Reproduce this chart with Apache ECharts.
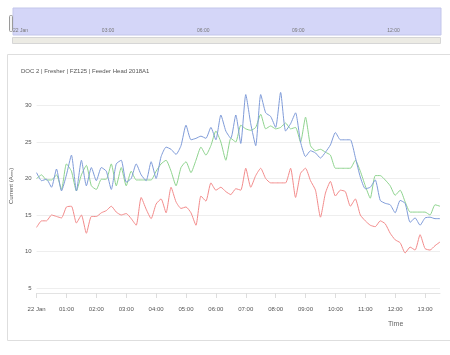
<!DOCTYPE html>
<html>
<head>
<meta charset="utf-8">
<script src="https://cdn.jsdelivr.net/npm/echarts@6/dist/echarts.min.js"></script>
<style>html,body{margin:0;padding:0;background:#fff;}#c{width:450px;height:355px;}</style>
</head>
<body>
<div id="c"></div>
<script>
// time categories every 10 minutes, 00:00 .. 13:30 on 22 Jan
var times = [];
for (var h = 0; h <= 13; h++) {
  for (var m = 0; m < 60; m += 10) {
    if (h === 13 && m > 30) break;
    times.push((h < 10 ? '0' : '') + h + ':' + (m < 10 ? '0' : '') + m);
  }
}
var chartTitle = 'DOC 2 | Fresher | FZ125 | Feeder Head 2018A1';
var yTicks = [5, 10, 15, 20, 25, 30];

var blueValues = [
  20.8, 19.7, 19.9, 18.8, 21.3, 18.3,
  20.5, 23.2, 18.3, 22.5, 19.0, 21.5,
  19.7, 21.5, 21.0, 18.5, 22.0, 22.5,
  19.5, 20.0, 22.0, 20.5, 19.7, 22.3,
  20.0, 23.0, 24.3, 24.0, 23.3, 24.5,
  27.3, 25.3, 25.5, 25.8, 25.5, 27.0,
  25.3, 28.7, 26.5, 25.5, 28.7, 24.8,
  31.5, 27.5, 24.5, 31.5, 29.0, 28.5,
  27.0, 31.8, 26.5, 27.5, 29.0, 25.0,
  23.0, 23.8, 23.5, 22.8, 23.6, 24.6,
  26.3, 25.3, 25.3, 25.3, 22.9, 20.2,
  18.6, 18.8, 19.8, 17.0, 16.6, 16.4,
  15.3, 17.0, 16.6, 14.0, 14.6, 13.6,
  14.6, 14.7, 14.5, 14.5
];
var greenValues = [
  20.0, 20.5, 19.8, 19.8, 20.5, 18.5,
  22.0, 21.0, 18.3, 20.5, 21.8, 19.0,
  18.5, 19.9, 19.9, 22.0, 19.0, 21.5,
  19.0, 21.0, 19.8, 19.8, 19.8, 19.8,
  21.0, 22.0, 22.5, 21.0, 19.0, 21.5,
  22.3, 20.8, 22.5, 24.3, 23.2, 24.5,
  26.5, 25.0, 22.5, 25.5, 25.0, 27.3,
  26.8, 26.6, 27.0, 28.8, 26.8, 27.2,
  26.8, 27.0, 27.6, 26.8, 27.0, 25.0,
  28.4, 24.5, 23.8, 24.0, 23.6, 23.2,
  21.4, 21.4, 21.4, 21.4, 22.5, 21.0,
  19.0, 17.3, 20.4, 20.4, 19.8, 19.0,
  17.7, 18.4, 16.8, 15.4, 15.4, 15.4,
  15.4, 15.0, 16.4, 16.2
];
var redValues = [
  13.3, 14.2, 14.2, 15.0, 14.8, 14.6,
  16.1, 16.2, 13.9, 15.0, 12.5, 14.8,
  14.8, 15.3, 15.6, 16.2, 15.4, 15.0,
  15.2, 14.5, 13.6, 17.4, 15.8, 14.5,
  16.5, 17.2, 15.3, 18.8, 16.8, 15.9,
  16.1, 15.3, 13.6, 17.6, 16.9, 19.4,
  18.4, 18.8, 18.2, 17.8, 18.6, 18.4,
  21.4, 18.8, 20.4, 21.4, 20.0, 19.4,
  19.4, 19.4, 19.4, 21.4, 17.4, 20.7,
  21.4, 19.7, 18.4, 14.7, 18.0, 19.6,
  17.6, 18.4, 18.2, 16.2, 17.2, 15.0,
  14.2, 13.6, 13.4, 14.2, 13.8, 12.5,
  11.6, 11.2, 9.8, 10.6, 10.2, 12.3,
  10.4, 10.2, 10.8, 11.3
];

var FONT = 'Liberation Sans, Arial, sans-serif';
var chart = echarts.init(document.getElementById('c'), null, {renderer: 'canvas'});

function lineSeries(name, data, color) {
  return {
    name: name, type: 'line', data: data, xAxisIndex: 0, yAxisIndex: 0,
    smooth: 0.18, showSymbol: false, symbol: 'none',
    lineStyle: {width: 1, color: color}, itemStyle: {color: color},
    animation: false
  };
}

chart.setOption({
  animation: false,
  backgroundColor: '#ffffff',
  title: {
    text: chartTitle, left: 16, top: 63,
    textStyle: {fontSize: 6, fontWeight: 'normal', color: '#555', fontFamily: FONT}
  },
  graphic: [
    {type: 'rect', z: -10, shape: {x: 7.5, y: 54.5, width: 460, height: 286},
      style: {fill: 'none', stroke: '#dedede', lineWidth: 1}},
    {type: 'rect', z: 10, shape: {x: 12.5, y: 37.5, width: 428, height: 6},
      style: {fill: '#ecebe4', stroke: '#d6d6d6', lineWidth: 1}},
    {type: 'rect', z: 10, shape: {x: 9.5, y: 15.5, width: 3, height: 16, r: 1},
      style: {fill: '#f4f4f4', stroke: '#9a9a9a', lineWidth: 1}},
    {type: 'text', z: 10, left: 388, top: 321,
      style: {text: 'Time', fontSize: 7, fill: '#666', fontFamily: FONT}}
  ],
  grid: [
    {left: 35, right: 10, top: 83.6, bottom: 67},
    {left: 13, right: 9, top: 8, height: 27, show: true,
      backgroundColor: '#d4d6f8', borderColor: '#c3c6ea', borderWidth: 1}
  ],
  xAxis: [
    {
      type: 'category', gridIndex: 0, data: times, boundaryGap: false, offset: 5,
      axisLine: {show: true, lineStyle: {color: '#e3e3e3'}},
      axisTick: {show: true, length: 5, interval: function (i) { return i % 6 === 0; },
        lineStyle: {color: '#dddddd'}},
      axisLabel: {
        interval: function (i) { return i % 6 === 0; }, margin: 13,
        fontSize: 6, color: '#555', fontFamily: FONT,
        formatter: function (v) { return v === '00:00' ? '22 Jan' : v; }
      },
      splitLine: {show: false}
    },
    {
      type: 'category', gridIndex: 1, data: times, boundaryGap: false,
      axisLine: {show: false}, axisTick: {show: false},
      axisLabel: {
        inside: true, interval: function (i) { return i % 18 === 0; }, margin: 2,
        fontSize: 5, color: '#777', fontFamily: FONT, alignMinLabel: 'left',
        formatter: function (v) { return v === '00:00' ? '22 Jan' : v; }
      },
      splitLine: {show: false}
    }
  ],
  yAxis: [
    {
      type: 'value', gridIndex: 0, min: 5, max: 33, interval: 5,
      name: 'Current (A{s|rms})', nameLocation: 'middle', nameGap: 16, nameRotate: 90,
      nameTextStyle: {fontSize: 6, color: '#555', fontFamily: FONT,
        rich: {s: {fontSize: 4, color: '#555', verticalAlign: 'bottom', fontFamily: FONT}}},
      axisLine: {show: false}, axisTick: {show: false},
      axisLabel: {fontSize: 6, color: '#555', margin: 5, fontFamily: FONT, showMaxLabel: false,
        formatter: function (v) { return yTicks.indexOf(v) >= 0 ? String(v) : ''; }},
      splitLine: {show: true, showMaxLine: false, lineStyle: {color: '#eeeeee', width: 1}}
    },
    {type: 'value', gridIndex: 1, show: false, min: 0, max: 1}
  ],
  series: [
    lineSeries('Green', greenValues, '#8ed38e'),
    lineSeries('Red', redValues, '#f28b8b'),
    lineSeries('Blue', blueValues, '#7f9bd8')
  ]
});
</script>
</body>
</html>
